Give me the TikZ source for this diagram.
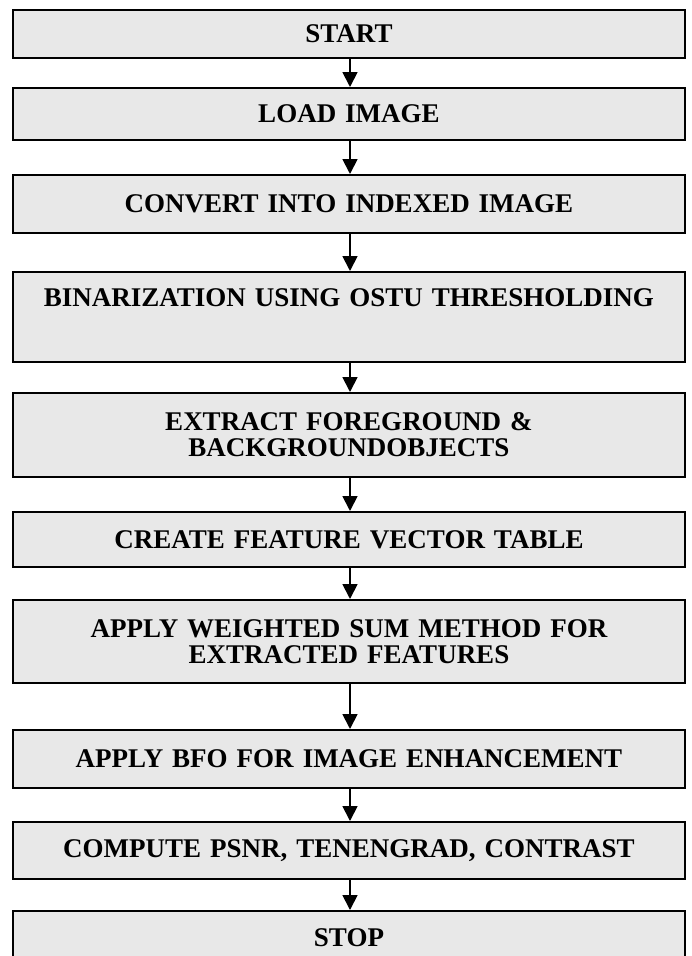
\documentclass[tikz,border=0pt]{standalone}
\usepackage{fontspec}
\setmainfont{Liberation Serif}
\usetikzlibrary{arrows.meta}
\definecolor{boxgray}{RGB}{232,232,232}
\tikzset{
  stepbox/.style={draw=black, line width=2pt, fill=boxgray, minimum width=672pt,
    inner sep=0pt, align=center, text width=660pt,
    font=\bfseries\fontsize{27}{26}\selectfont},
  arr/.style={line width=1.8pt, -{Triangle[length=15pt,width=15pt]}}
}
\begin{document}
\begin{tikzpicture}[x=1pt,y=-1pt]
\useasboundingbox (0,0) rectangle (692,956);
\clip (0,0) rectangle (692,956);
\node[stepbox, minimum height=48pt] (n1) at (349,34) {START};
\node[stepbox, minimum height=52pt] (n2) at (349,114) {LOAD IMAGE};
\node[stepbox, minimum height=58pt] (n3) at (349,204) {CONVERT INTO INDEXED IMAGE};
\node[stepbox, minimum height=90pt] (n4) at (349,317) {BINARIZATION USING OSTU THRESHOLDING\\[6pt]\strut};
\node[stepbox, minimum height=84pt] (n5) at (349,435) {EXTRACT FOREGROUND \&\\BACKGROUNDOBJECTS};
\node[stepbox, minimum height=55pt] (n6) at (349,539.5) {CREATE FEATURE VECTOR TABLE};
\node[stepbox, minimum height=83pt] (n7) at (349,641.5) {APPLY WEIGHTED SUM METHOD FOR\\EXTRACTED FEATURES};
\node[stepbox, minimum height=58pt] (n8) at (349,759) {APPLY BFO FOR IMAGE ENHANCEMENT};
\node[stepbox, minimum height=57pt] (n9) at (349,850.5) {COMPUTE PSNR, TENENGRAD, CONTRAST};
\node[stepbox, minimum height=54pt] (n10) at (349,938) {STOP};
\foreach \a/\b in {n1/n2,n2/n3,n3/n4,n4/n5,n5/n6,n6/n7,n7/n8,n8/n9,n9/n10}
  \draw[arr] ([xshift=1pt]\a.south) -- ([xshift=1pt]\b.north);
\end{tikzpicture}
\end{document}
